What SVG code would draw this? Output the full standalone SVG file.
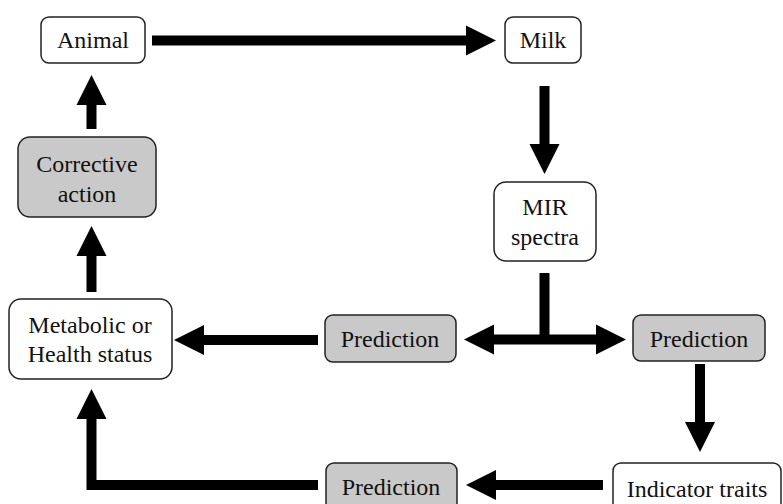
<svg xmlns="http://www.w3.org/2000/svg" width="783" height="504" viewBox="0 0 783 504">
<style>
.box{fill:#ffffff;stroke:#222222;stroke-width:1.5}
.gray{fill:#c9c9c9;stroke:#222222;stroke-width:1.5}
text{font-family:'Liberation Serif','Times New Roman',serif;font-size:24px;fill:#111111;text-anchor:middle}
.arr{fill:none;stroke:#000000;stroke-width:10;stroke-linejoin:miter}
</style>
<defs>
<marker id="ah" markerUnits="userSpaceOnUse" markerWidth="31" markerHeight="31" refX="1" refY="15" orient="auto-start-reverse" viewBox="0 0 31 30">
<path d="M0,0 L30,15 L0,30 Z" fill="#000000"/>
</marker>
</defs>
<rect width="783" height="504" fill="#ffffff"/>
<g id="connectors">
<line class="arr" x1="152" y1="40.5" x2="467" y2="40.5" marker-end="url(#ah)"/>
<line class="arr" x1="544.5" y1="86" x2="544.5" y2="145" marker-end="url(#ah)"/>
<line class="arr" x1="544.5" y1="273" x2="544.5" y2="340"/>
<line class="arr" x1="493" y1="339.5" x2="597" y2="339.5" marker-start="url(#ah)" marker-end="url(#ah)"/>
<line class="arr" x1="318" y1="340" x2="203" y2="340" marker-end="url(#ah)"/>
<line class="arr" x1="700" y1="364" x2="700" y2="423" marker-end="url(#ah)"/>
<line class="arr" x1="603" y1="485" x2="495" y2="485" marker-end="url(#ah)"/>
<path class="arr" d="M318,485 H91.5 V418" marker-end="url(#ah)"/>
<line class="arr" x1="91.5" y1="292" x2="91.5" y2="255" marker-end="url(#ah)"/>
<line class="arr" x1="91.5" y1="129" x2="91.5" y2="104" marker-end="url(#ah)"/>
</g>
<g id="animal">
<rect class="box" x="41" y="17" width="104" height="46" rx="8"/>
<text x="93" y="48">Animal</text>
</g>
<g id="milk">
<rect class="box" x="505" y="17" width="76" height="46" rx="8"/>
<text x="543" y="48">Milk</text>
</g>
<g id="mir">
<rect class="box" x="494" y="182" width="102" height="79" rx="12"/>
<text x="545" y="215">MIR</text>
<text x="545" y="245">spectra</text>
</g>
<g id="corrective">
<rect class="gray" x="18" y="137" width="138" height="80" rx="12"/>
<text x="87" y="172">Corrective</text>
<text x="87" y="202">action</text>
</g>
<g id="metabolic">
<rect class="box" x="9" y="299" width="163" height="80" rx="12"/>
<text x="90" y="333">Metabolic or</text>
<text x="90" y="362">Health status</text>
</g>
<g id="prediction1">
<rect class="gray" x="325" y="315" width="131" height="47" rx="8"/>
<text x="390" y="347">Prediction</text>
</g>
<g id="prediction3">
<rect class="gray" x="633" y="315" width="132" height="46" rx="8"/>
<text x="699" y="347">Prediction</text>
</g>
<g id="prediction2">
<rect class="gray" x="326" y="463" width="131" height="48" rx="8"/>
<text x="391" y="495">Prediction</text>
</g>
<g id="indicator">
<rect class="box" x="613" y="463" width="168" height="48" rx="8"/>
<text x="697" y="497">Indicator traits</text>
</g>
</svg>
